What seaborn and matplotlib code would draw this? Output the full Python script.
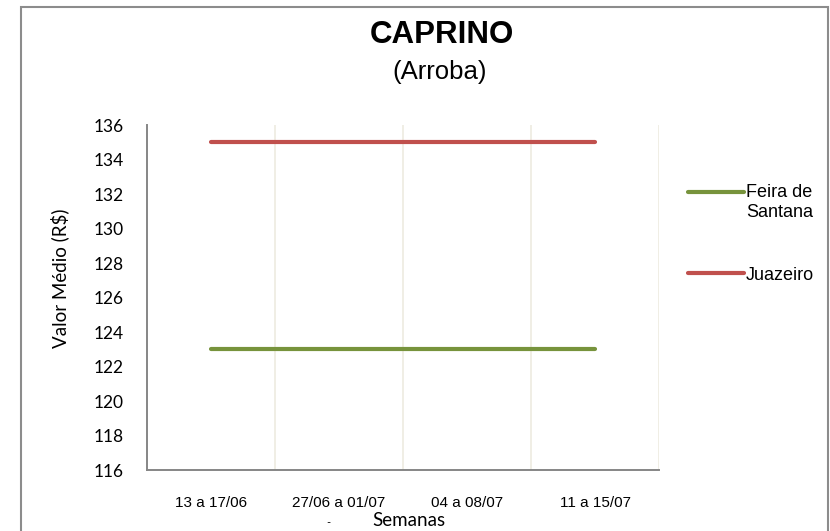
import pandas as pd
import numpy as np
import matplotlib.pyplot as plt
import seaborn as sns
from matplotlib.patches import Rectangle

# Data
semanas = ['13 a 17/06', '27/06 a 01/07', '04 a 08/07', '11 a 15/07']
feira_de_santana = [123, 123, 123, 123]
juazeiro = [135, 135, 135, 135]

COLORS = {
    'Feira de\nSantana': '#77933C',   # green
    'Juazeiro':          '#C0504D',   # red
}

df = pd.concat([
    pd.DataFrame({'pos': range(len(semanas)), 'valor': feira_de_santana,
                  'Praça': 'Feira de\nSantana'}),
    pd.DataFrame({'pos': range(len(semanas)), 'valor': juazeiro,
                  'Praça': 'Juazeiro'}),
], ignore_index=True)

sns.set_style('white')
plt.rcParams['font.family'] = ['Liberation Sans', 'DejaVu Sans']
plt.rcParams['text.color'] = 'black'
plt.rcParams['xtick.color'] = 'black'
plt.rcParams['ytick.color'] = 'black'

fig = plt.figure(figsize=(8.30, 5.31), dpi=100)
ax = fig.add_axes([147 / 830, 1 - 470 / 531, 512 / 830, 345 / 531])

sns.lineplot(data=df, x='pos', y='valor', hue='Praça', palette=COLORS,
             linewidth=3, solid_capstyle='round', ax=ax)

ax.set_xlim(-0.5, len(semanas) - 0.5)
ax.set_ylim(116, 136)
ax.set_yticks(np.arange(116, 137, 2))
ax.set_xticks(range(len(semanas)))
ax.set_xticklabels(semanas, fontsize=11)
ax.set_xticks(np.arange(0.5, len(semanas), 1), minor=True)
ax.grid(which='minor', axis='x', color='#EEEBE0', linewidth=1.2)
ax.grid(which='major', axis='both', visible=False)
ax.tick_params(axis='x', which='both', length=0, pad=19)
ax.tick_params(axis='y', length=0, pad=17)
for lab in ax.get_yticklabels():
    lab.set_fontfamily('Lato')
    lab.set_fontsize(12.5)

for side in ['top', 'right']:
    ax.spines[side].set_visible(False)
for side in ['left', 'bottom']:
    ax.spines[side].set_color('#868686')
    ax.spines[side].set_linewidth(1.4)

ax.set_xlabel('')
ax.set_ylabel('')
fig.text(60 / 830, 1 - 278 / 531, 'Valor Médio (R$)', rotation=90,
         ha='center', va='center', fontsize=13.5, family='Lato')
fig.text(409 / 830, 1 - 521 / 531, 'Semanas', ha='center', va='center',
         fontsize=13.5, family='Lato')
fig.text(328 / 830, 1 - 523 / 531, '-', ha='center', va='center',
         fontsize=8, family='Lato')

fig.text(442 / 830, 1 - 35 / 531, 'CAPRINO', ha='center', va='center',
         fontsize=22.5, fontweight='bold')
fig.text(440 / 830, 1 - 72 / 531, '(Arroba)', ha='center', va='center',
         fontsize=18.5)

leg = ax.legend(loc='upper left', bbox_to_anchor=(1.024, 0.876), frameon=False,
                fontsize=13, handlelength=3.1, handletextpad=0.15,
                labelspacing=2.55, title=None)
# Excel puts the key next to the first line of a wrapped label
first = leg.get_lines()[0]
first.set_ydata(np.asarray(first.get_ydata()) + 7.5)

# outer chart border
fig.patches.append(Rectangle((21 / 830, -0.05), 807 / 830, 1.05 - 7 / 531,
                             transform=fig.transFigure, fill=False,
                             edgecolor='#8C8C8C', linewidth=1.5))

fig.savefig('out.png', dpi=100)
